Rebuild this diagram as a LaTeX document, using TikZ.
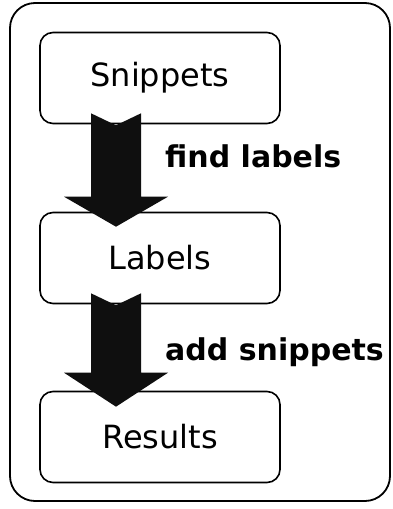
\documentclass[tikz,border=0pt]{standalone}
\usepackage{fontspec}
\setmainfont{DejaVu Sans}
\usetikzlibrary{calc}

% notched block arrow from a tail point #1 down to a tip point #2
\newcommand\blockarrow[3]{%
  \fill[arrowfill]
    ($(#1)+(-25,0)$) -- ($(#1)+(0,12)$) -- ($(#1)+(25,0)$)
    -- ($(#2)+(25,-#3)$) -- ($(#2)+(52,-#3)$) -- (#2)
    -- ($(#2)+(-52,-#3)$) -- ($(#2)+(-25,-#3)$) -- cycle;%
}

\begin{document}
\begin{tikzpicture}[x=1pt,y=-1pt,
  stepbox/.style={draw, line width=1.6pt, rounded corners=13pt,
    minimum width=240pt, minimum height=91pt, inner sep=0pt,
    font=\fontsize{32}{36}\selectfont},
  actionlabel/.style={anchor=base west, inner sep=0pt,
    font=\fontsize{30}{34}\selectfont\bfseries},
  arrowfill/.style={fill=black!94},
  frame/.style={draw, line width=1.8pt, rounded corners=25pt}]
  \useasboundingbox (0,0) rectangle (393,509);

  % outer frame
  \draw[frame] (10,3) rectangle (390,501);

  % the three stages
  \node[stepbox] (snip) at (160,78)  {Snippets};
  \node[stepbox] (lab)  at (160,258) {Labels};
  \node[stepbox] (res)  at (160,437) {Results};

  % arrows between stages
  \coordinate (a1s) at ($(snip.south)+(-44,-11)$);
  \coordinate (a1e) at ($(lab.north)+(-44,15)$);
  \coordinate (a2s) at ($(lab.south)+(-44,-11)$);
  \coordinate (a2e) at ($(res.north)+(-44,16)$);
  \blockarrow{a1s}{a1e}{30}
  \blockarrow{a2s}{a2e}{34}

  % action labels
  \node[actionlabel] (find) at (165,167) {find labels};
  \node[actionlabel] (add)  at (165,360) {add snippets};
\end{tikzpicture}
\end{document}
